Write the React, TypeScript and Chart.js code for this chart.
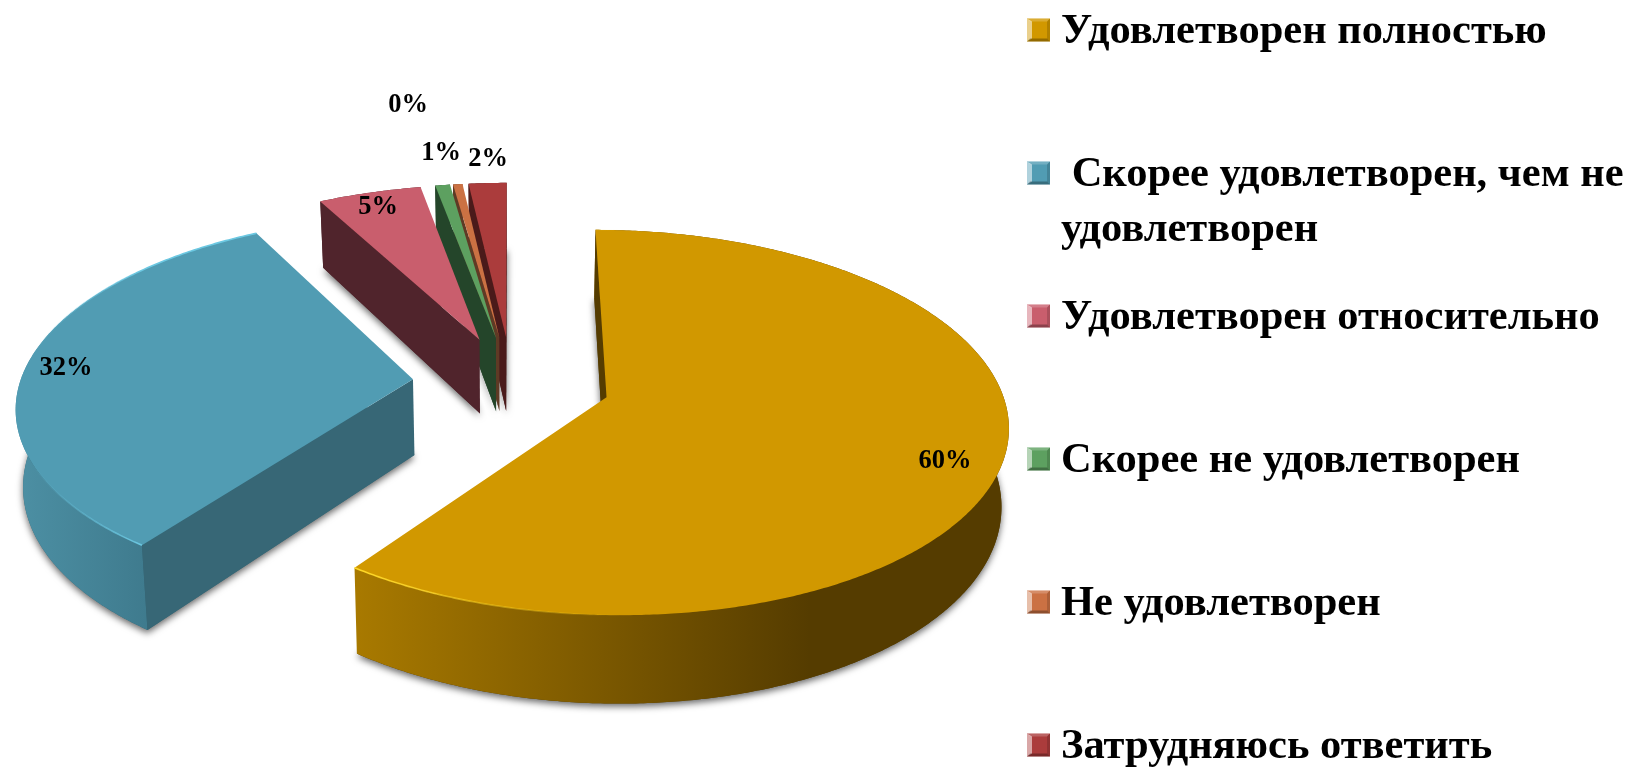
import React, { useEffect, useRef } from "react";
import { Chart, registerables } from "chart.js";

Chart.register(...registerables);

const categories = [
  "Удовлетворен полностью",
  "Скорее удовлетворен, чем не удовлетворен",
  "Удовлетворен относительно",
  "Скорее не удовлетворен",
  "Не удовлетворен",
  "Затрудняюсь ответить",
];
const shares = [60.1, 32.05, 4.9, 0.7, 0.45, 1.8];
const topColors = ["#D19800", "#519CB3", "#C95E6D", "#5DA060", "#CB7143", "#AB3C3C"];
const sideColors = ["#553C00", "#376776", "#50242C", "#24452A", "#5F3A25", "#4A1A1A"];
const rimLightColors = ["#A97A00", "#4C8FA3", "#50242C", "#24452A", "#5F3A25", "#4A1A1A"];
const edgeGlowColors = ["#FFD826", "#6CC8E2", null, null, null, null];

const legendLines = [
  ["Удовлетворен полностью"],
  [" Скорее удовлетворен, чем не", "удовлетворен"],
  ["Удовлетворен относительно"],
  ["Скорее не удовлетворен"],
  ["Не удовлетворен"],
  ["Затрудняюсь ответить"],
];

const W = 1630;
const H = 767;
const CX = 511.5;
const CY = 382.5;
const RADIUS = 393;
const EXPLODE = 99;
const SQUASH = 0.472;
const PERSP = 0.13;
const DEPTH = 76;
const SHRINK = 0.015;
const ROTATION = 0;
const LABEL_FONT = "bold 26.5px 'Liberation Serif'";
const LEGEND_FONT = "bold 42.5px 'Liberation Serif'";
const labelCentres = [
  [945, 461],
  [66, 368],
  [378, 207],
  [441, 153],
  [408, 105],
  [488, 159],
];
const LEGEND_X = 1027;
const LEGEND_TEXT_X = 1061;
const LEGEND_Y0 = 30;
const LEGEND_STEP = 143;
const LEGEND_LINE = 55;
const LEGEND_TEXT_DY = 2;
const MARK = 23;

function project(cx, cy, u, v, z) {
  const w = 1 - (PERSP * v) / RADIUS;
  return [cx + (u / w) * (1 - SHRINK * z), cy + (SQUASH * v) / w + (DEPTH * z) / w];
}

function sweep(a0, a1) {
  const n = Math.max(2, Math.ceil(((a1 - a0) * 180) / Math.PI / 0.5));
  const out = [];
  for (let i = 0; i <= n; i++) out.push(a0 + ((a1 - a0) * i) / n);
  return out;
}

function poly(ctx, pts) {
  ctx.beginPath();
  pts.forEach((p, i) => (i ? ctx.lineTo(p[0], p[1]) : ctx.moveTo(p[0], p[1])));
  ctx.closePath();
}

function cross(o, a, b) {
  return (a[0] - o[0]) * (b[1] - o[1]) - (a[1] - o[1]) * (b[0] - o[0]);
}

const order = [5, 4, 3, 2, 1, 0];

const pie3d = {
  id: "pie3d",
  beforeDatasetsDraw(chart) {
    const ctx = chart.ctx;
    const arcs = chart.getDatasetMeta(0).data;
    order.forEach((i) => {
      const g = geom(arcs[i]);
      ctx.save();
      ctx.shadowColor = "rgba(0,0,0,0.6)";
      ctx.shadowBlur = 7;
      ctx.shadowOffsetY = 3;
      ctx.fillStyle = sideColors[i];
      poly(ctx, g.base);
      ctx.fill();
      ctx.restore();
    });
    order.forEach((i) => {
      const g = geom(arcs[i]);
      const rimTop = g.top;
      const rimBase = g.base.slice(1);
      const last = rimTop.length - 1;
      // outer wall
      const grad = ctx.createLinearGradient(i === 0 ? 352 : 20, 0, i === 0 ? 810 : 145, 0);
      grad.addColorStop(0, rimLightColors[i]);
      grad.addColorStop(1, i === 1 ? "#3F7B8E" : sideColors[i]);
      ctx.fillStyle = grad;
      poly(ctx, rimTop.concat(rimBase.slice().reverse()));
      ctx.fill();
      // radial walls, only where they face the viewer
      ctx.fillStyle = sideColors[i];
      const startSeen =
        cross(g.apex, rimTop[0], g.base[0]) * cross(g.apex, rimTop[0], rimTop[1]) < 0;
      if (startSeen) {
        poly(ctx, [g.apex, rimTop[0], rimBase[0], g.base[0]]);
        ctx.fill();
      }
      const endSeen =
        cross(g.apex, rimTop[last], g.base[0]) * cross(g.apex, rimTop[last], rimTop[last - 1]) < 0;
      if (endSeen) {
        poly(ctx, [g.apex, rimTop[last], rimBase[last], g.base[0]]);
        ctx.fill();
      }
      // top face
      ctx.fillStyle = topColors[i];
      poly(ctx, [g.apex].concat(rimTop));
      ctx.fill();
      // lit edge on the near rim
      if (edgeGlowColors[i]) {
        const x0 = i === 0 ? 352 : 145;
        const x1 = i === 0 ? 620 : 30;
        const glow = ctx.createLinearGradient(x0, 0, x1, 0);
        glow.addColorStop(0, edgeGlowColors[i]);
        glow.addColorStop(1, edgeGlowColors[i] + "00");
        ctx.strokeStyle = glow;
        ctx.lineWidth = 1.6;
        ctx.beginPath();
        rimTop.forEach((p, k) => (k ? ctx.lineTo(p[0], p[1]) : ctx.moveTo(p[0], p[1])));
        ctx.stroke();
      }
    });
    return false;
  },
  afterDraw(chart) {
    const ctx = chart.ctx;
    ctx.save();
    ctx.fillStyle = "#000";
    ctx.textBaseline = "middle";
    ctx.textAlign = "center";
    ctx.font = LABEL_FONT;
    shares.forEach((s, i) => {
      ctx.fillText(Math.round(s) + "%", labelCentres[i][0], labelCentres[i][1]);
    });
    ctx.textAlign = "left";
    ctx.font = LEGEND_FONT;
    legendLines.forEach((lines, i) => {
      const y = LEGEND_Y0 + i * LEGEND_STEP;
      drawMarker(ctx, LEGEND_X, y - MARK / 2, topColors[i]);
      ctx.fillStyle = "#000";
      lines.forEach((t, k) => ctx.fillText(t, LEGEND_TEXT_X, y + LEGEND_TEXT_DY + k * LEGEND_LINE));
    });
    ctx.restore();
  },
};

function geom(arc) {
  const mid = (arc.startAngle + arc.endAngle) / 2;
  const off = arc.options.offset || 0;
  const u0 = Math.cos(mid) * off;
  const v0 = Math.sin(mid) * off;
  const R = arc.outerRadius;
  const angles = sweep(arc.startAngle, arc.endAngle);
  const at = (a, z) => project(arc.x, arc.y, u0 + Math.cos(a) * R, v0 + Math.sin(a) * R, z);
  return {
    apex: project(arc.x, arc.y, u0, v0, 0),
    top: angles.map((a) => at(a, 0)),
    base: [project(arc.x, arc.y, u0, v0, 1)].concat(angles.map((a) => at(a, 1))),
  };
}

function drawMarker(ctx, x, y, color) {
  const s = MARK;
  const b = 3;
  ctx.fillStyle = color;
  ctx.fillRect(x, y, s, s);
  const band = (pts, fill) => {
    ctx.fillStyle = fill;
    poly(ctx, pts);
    ctx.fill();
  };
  band([[x, y], [x + s, y], [x + s - b, y + b], [x + b, y + b]], "rgba(255,255,255,0.2)");
  band([[x, y], [x + b + 2, y + b], [x + b + 2, y + s - b], [x, y + s]], "rgba(255,255,255,0.55)");
  band([[x + s, y], [x + s, y + s], [x + s - b, y + s - b], [x + s - b, y + b]], "rgba(0,0,0,0.15)");
  band([[x, y + s], [x + s, y + s], [x + s - b, y + s - b], [x + b, y + s - b]], "rgba(0,0,0,0.3)");
}

export default function App() {
  const ref = useRef(null);
  useEffect(() => {
    document.body.style.margin = "0";
    const chart = new Chart(ref.current, {
      type: "pie",
      data: {
        labels: categories,
        datasets: [
          {
            data: shares,
            backgroundColor: topColors,
            borderWidth: 0,
            offset: EXPLODE,
          },
        ],
      },
      options: {
        responsive: false,
        animation: false,
        rotation: ROTATION,
        radius: RADIUS,
        layout: { padding: { left: 0, top: 0, right: W - CX * 2, bottom: H - CY * 2 } },
        plugins: { legend: { display: false }, tooltip: { enabled: false } },
      },
      plugins: [pie3d],
    });
    return () => chart.destroy();
  }, []);
  return (
    <div style={{ width: W, height: H, overflow: "hidden", background: "#fff" }}>
      <canvas ref={ref} width={W} height={H} style={{ display: "block" }} />
    </div>
  );
}
